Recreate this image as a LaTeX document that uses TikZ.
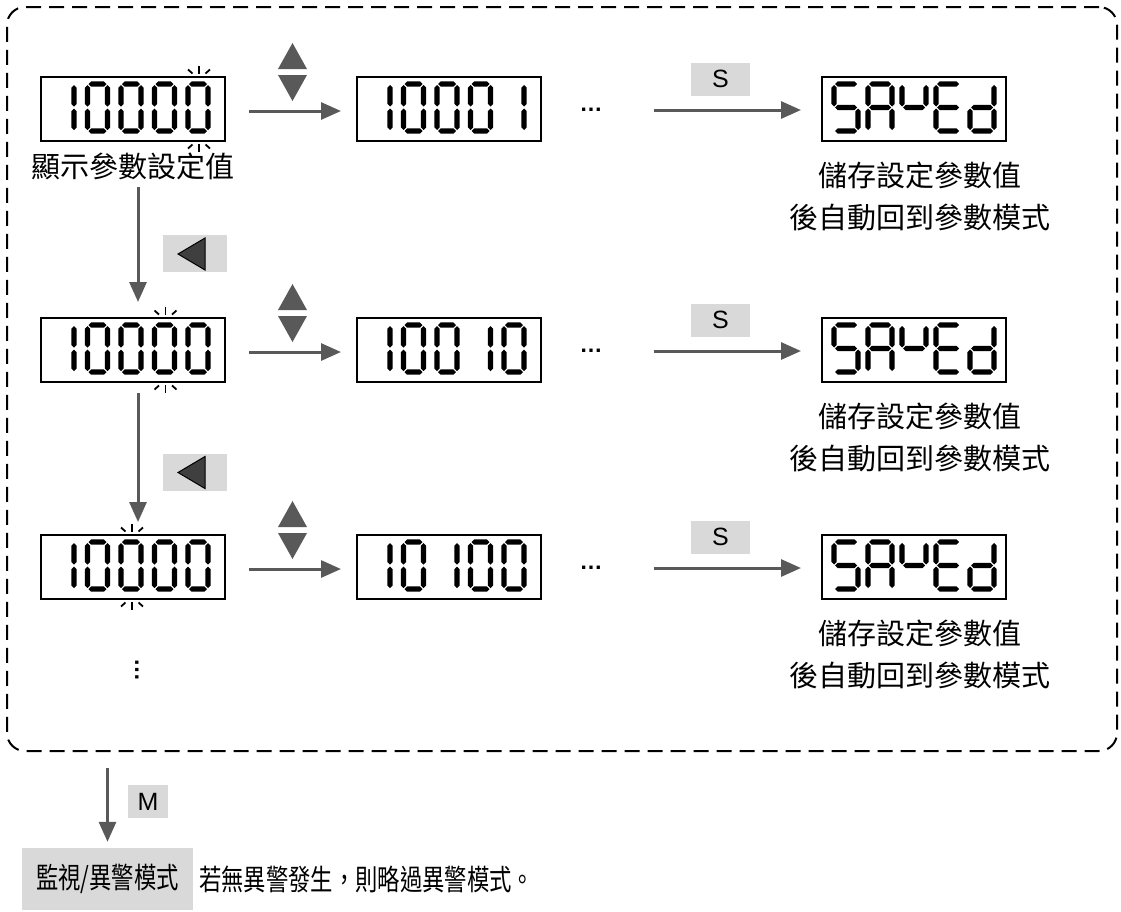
\documentclass[tikz,border=0pt]{standalone}
\usepackage{fontspec}
\setmainfont{Liberation Sans}
\newfontfamily\cjk{Noto Sans CJK TC}
\newfontfamily\cjknarrow[FakeStretch=0.77]{Noto Sans CJK TC}
\usetikzlibrary{arrows.meta,positioning}

\definecolor{flowgray}{HTML}{595959}
\definecolor{keygray}{HTML}{D9D9D9}
\definecolor{keydark}{HTML}{3F3F3F}

% seven segment geometry
\newcommand{\segw}{20}
\newcommand{\segh}{23.5}
\newcommand{\sht}{2.6}
\newcommand{\hseg}[3]{\fill (#1,#3) -- (#1+\sht,#3-\sht) -- (#2-\sht,#3-\sht) -- (#2,#3) -- (#2-\sht,#3+\sht) -- (#1+\sht,#3+\sht) -- cycle;}
\newcommand{\vseg}[3]{\fill (#1,#2) -- (#1+\sht,#2+\sht) -- (#1+\sht,#3-\sht) -- (#1,#3) -- (#1-\sht,#3-\sht) -- (#1-\sht,#2+\sht) -- cycle;}

% characters as segment lists
\def\dgzero{a,b,c,d,e,f}
\def\dgone{b,c}
\def\chS{a,c,d,f,g}
\def\chA{a,b,c,e,f,g}
\def\chY{b,f,g}
\def\chE{a,d,e,f,g}
\def\chd{b,c,d,e,g}

% #1 display node, #2 char width, #3 list of offset/chars
\newcommand{\lcdtext}[3]{%
  \begin{scope}[shift={(#1.north west)}]
    \renewcommand{\segw}{#2}%
    \foreach \digx/\digsegs in {#3}{%
      \edef\seglist{\digsegs}%
      \foreach \sgn in \seglist {%
        \edef\segcmd{\noexpand\pic at (\digx,8) {seg\sgn};}\segcmd
      }%
    }%
  \end{scope}}

\tikzset{
  lcd/.style={draw=black, line width=2pt, minimum width=184pt, minimum height=64pt, inner sep=0pt},
  flow/.style={draw=flowgray, line width=3pt, -{Triangle[length=20pt,width=17pt]}},
  key/.style={fill=keygray, minimum width=59pt, minimum height=33pt, inner sep=0pt, font=\fontsize{25}{25}\selectfont},
  lbl/.style={inner sep=0pt, font=\cjk\fontsize{29}{42}\selectfont},
  dots/.style={inner sep=0pt, font=\bfseries\fontsize{23}{23}\selectfont},
  blinkline/.style={draw=black, line width=1.8pt},
  frame/.style={draw=black, line width=2pt, dash pattern=on 15pt off 8pt, rounded corners=18pt,
    minimum width=1110pt, minimum height=744pt},
  sega/.pic={\hseg{1}{\segw-1}{0}},
  segb/.pic={\vseg{\segw}{1}{\segh-1}},
  segc/.pic={\vseg{\segw}{\segh+1}{2*\segh-1}},
  segd/.pic={\hseg{1}{\segw-1}{2*\segh}},
  sege/.pic={\vseg{0}{\segh+1}{2*\segh-1}},
  segf/.pic={\vseg{0}{1}{\segh-1}},
  segg/.pic={\hseg{1}{\segw-1}{\segh}},
  blink/.pic={
    \draw[blinkline] (0,-43) -- (0,-35);
    \draw[blinkline] (-11,-39.5) -- (-6.5,-35.5);
    \draw[blinkline] (11,-39.5) -- (6.5,-35.5);
    \draw[blinkline] (0,35) -- (0,43);
    \draw[blinkline] (-11,39.5) -- (-6.5,35.5);
    \draw[blinkline] (11,39.5) -- (6.5,35.5);
  },
  updown/.pic={
    \fill[flowgray] (-14.5,-3) -- (0,-29) -- (14.5,-3) -- cycle;
    \fill[flowgray] (-14.5,3) -- (0,29) -- (14.5,3) -- cycle;
  },
  lefttri/.pic={
    \filldraw[fill=keydark, draw=black, line width=1pt] (-17,0.5) -- (10,-15.5) -- (10,16.5) -- cycle;
  }
}

\begin{document}
\begin{tikzpicture}[x=1pt, y=-1pt]
  \useasboundingbox (0,0) rectangle (1121,911);
  % dashed frame round the parameter loop
  \node[frame] (frame) at (562,379) {};

  % Row 1
  \node[lcd] (d11) at (133,109) {};
  \node[lcd] (d12) at (449,109) {};
  \node[lcd] (sv1) at (914,109) {};
  \lcdtext{d11}{20}{14/\dgone,47.5/\dgzero,81/\dgzero,114.5/\dgzero,148/\dgzero}
  \lcdtext{d12}{20}{14/\dgone,47.5/\dgzero,81/\dgzero,114.5/\dgzero,148/\dgone}
  \lcdtext{sv1}{24}{13/\chS,47/\chA,81/\chY,115/\chE,149/\chd}
  \pic at ([xshift=66pt]d11.center) {blink};
  \node[lbl, below=11pt of d11] (lbl1) {顯示參數設定值};
  \node[lbl, align=center, below=20pt of sv1, xshift=6pt] (sv1txt) {儲存設定參數值\\後自動回到參數模式};
  \pic at (292.5,72) {updown};
  \node[key] (s1) at (720.5,79) {S};
  \node[dots] (dots1) at (591,110) {…};
  \draw[flow, shorten <=23pt, shorten >=15pt] ([yshift=-2pt]d11.east) -- ([yshift=-2pt]d12.west);
  \draw[flow, shorten <=51pt, shorten >=20pt] (dots1.east) -- (dots1.east -| sv1.west);

  % Row 2
  \node[lcd] (d21) at (133,350) {};
  \node[lcd] (d22) at (449,350) {};
  \node[lcd] (sv2) at (914,350) {};
  \lcdtext{d21}{20}{14/\dgone,47.5/\dgzero,81/\dgzero,114.5/\dgzero,148/\dgzero}
  \lcdtext{d22}{20}{14/\dgone,47.5/\dgzero,81/\dgzero,114.5/\dgone,148/\dgzero}
  \lcdtext{sv2}{24}{13/\chS,47/\chA,81/\chY,115/\chE,149/\chd}
  \pic at ([xshift=32.5pt]d21.center) {blink};
  \node[lbl, align=center, below=20pt of sv2, xshift=6pt] (sv2txt) {儲存設定參數值\\後自動回到參數模式};
  \pic at (292.5,313) {updown};
  \node[key] (s2) at (720.5,320) {S};
  \node[dots] (dots2) at (591,351) {…};
  \draw[flow, shorten <=23pt, shorten >=15pt] ([yshift=-2pt]d21.east) -- ([yshift=-2pt]d22.west);
  \draw[flow, shorten <=51pt, shorten >=20pt] (dots2.east) -- (dots2.east -| sv2.west);

  % Row 3
  \node[lcd] (d31) at (133,567) {};
  \node[lcd] (d32) at (449,567) {};
  \node[lcd] (sv3) at (914,567) {};
  \lcdtext{d31}{20}{14/\dgone,47.5/\dgzero,81/\dgzero,114.5/\dgzero,148/\dgzero}
  \lcdtext{d32}{20}{14/\dgone,47.5/\dgzero,81/\dgone,114.5/\dgzero,148/\dgzero}
  \lcdtext{sv3}{24}{13/\chS,47/\chA,81/\chY,115/\chE,149/\chd}
  \pic at ([xshift=-1pt]d31.center) {blink};
  \node[lbl, align=center, below=20pt of sv3, xshift=6pt] (sv3txt) {儲存設定參數值\\後自動回到參數模式};
  \pic at (292.5,530) {updown};
  \node[key] (s3) at (720.5,537) {S};
  \node[dots] (dots3) at (591,568) {…};
  \draw[flow, shorten <=23pt, shorten >=15pt] ([yshift=-2pt]d31.east) -- ([yshift=-2pt]d32.west);
  \draw[flow, shorten <=51pt, shorten >=20pt] (dots3.east) -- (dots3.east -| sv3.west);
  \node[dots, rotate=90] (vdots) at (137,670) {…};

  % Left key steps between rows
  \node[key, minimum width=64pt, minimum height=37pt] (left1) at (195,253.5) {};
  \pic at (left1) {lefttri};
  \node[key, minimum width=64pt, minimum height=37pt] (left2) at (195,472) {};
  \pic at (left2) {lefttri};
  \draw[flow, shorten <=7pt, shorten >=15pt] ([xshift=5pt]lbl1.south) -- ([xshift=5pt]d21.north);
  \draw[flow, shorten <=10pt, shorten >=12pt] ([xshift=5pt]d21.south) -- ([xshift=5pt]d31.north);

  % M key to monitor mode
  \node[key, minimum width=171pt, minimum height=62pt, font=\cjknarrow\fontsize{29}{29}\selectfont] (mode) at (107.5,879) {監視/異警模式};
  \node[key, minimum width=40pt] (mkey) at (148,801.5) {M};
  \node[anchor=west, inner sep=0pt, font=\cjknarrow\fontsize{29}{29}\selectfont] (note) at (199,879) {若無異警發生，則略過異警模式。};
  \draw[flow, shorten <=16pt, shorten >=6pt] (frame.south -| mode.north) -- (mode.north);
\end{tikzpicture}
\end{document}
